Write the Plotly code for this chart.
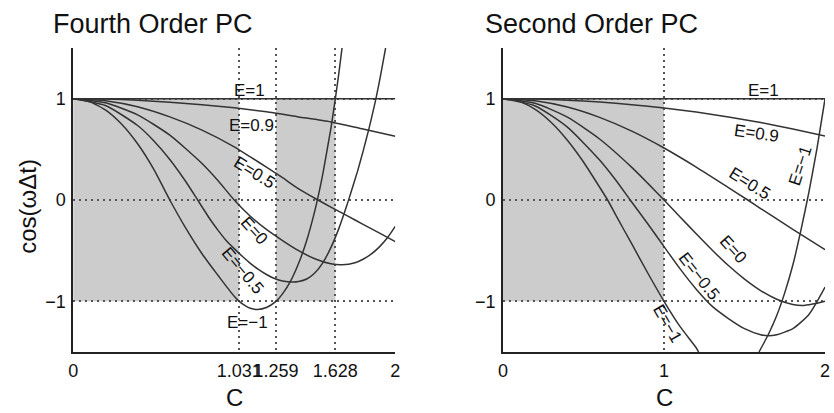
import plotly.graph_objects as go

# ---------------- data ----------------
# Fourth Order PC (left panel)
fo_E1_c = [0, 2]
fo_E1_y = [1, 1]
fo_E09_c = [0, 0.2, 0.4, 0.6, 0.8, 1.0, 1.2, 1.4, 1.6, 1.8, 2.0]
fo_E09_y = [1, 0.997, 0.985, 0.965, 0.94, 0.91, 0.87, 0.82, 0.77, 0.70, 0.63]
fo_E05_c = [0, 0.2, 0.4, 0.6, 0.8, 1.0, 1.1, 1.2, 1.3, 1.4, 1.52, 1.6, 1.7, 1.8, 1.9, 2.0]
fo_E05_y = [1, 0.98, 0.92, 0.82, 0.69, 0.525, 0.425, 0.325, 0.22, 0.11, 0.0, -0.07, -0.155, -0.24, -0.325, -0.41]
fo_E0_c = [0, 0.2, 0.4, 0.6, 0.8, 0.9, 1.0, 1.1, 1.2, 1.3, 1.4, 1.5, 1.6, 1.67, 1.75, 1.8, 1.85, 1.9, 1.95, 2.0]
fo_E0_y = [1, 0.96, 0.84, 0.64, 0.36, 0.19, 0.0, -0.16, -0.29, -0.40, -0.50, -0.58, -0.63, -0.64, -0.62, -0.585, -0.535, -0.465, -0.375, -0.26]
fo_Em05_c = [0, 0.2, 0.4, 0.5, 0.6, 0.7, 0.773, 0.85, 0.9, 0.95, 1.0, 1.05, 1.1, 1.15, 1.2, 1.25, 1.3, 1.366,
             1.4, 1.45, 1.5, 1.55, 1.6, 1.65, 1.7, 1.72, 1.765, 1.8, 1.836, 1.86, 1.88, 1.91, 1.94]
fo_Em05_y = [1, 0.933, 0.735, 0.585, 0.40, 0.18, 0.0, -0.19, -0.30, -0.40, -0.48, -0.555, -0.625, -0.685, -0.735,
             -0.775, -0.80, -0.81, -0.805, -0.78, -0.72, -0.62, -0.47, -0.28, -0.05, 0.05, 0.28, 0.48, 0.70, 0.86,
             1.0, 1.24, 1.5]
fo_Em1_c = [0, 0.1, 0.2, 0.3, 0.4, 0.5, 0.6, 0.7, 0.8, 0.9, 0.95, 1.0, 1.031, 1.07, 1.1, 1.145, 1.2, 1.259,
            1.3, 1.35, 1.4, 1.45, 1.5, 1.53, 1.55, 1.6, 1.628, 1.65, 1.675]
fo_Em1_y = [1, 0.972, 0.889, 0.75, 0.555, 0.305, 0.0, -0.28, -0.53, -0.745, -0.85, -0.95, -1.0, -1.045, -1.068,
            -1.08, -1.061, -1.0, -0.926, -0.80, -0.625, -0.40, -0.11, 0.10, 0.256, 0.705, 1.0, 1.255, 1.57]

# Second Order PC (right panel)
so_E1_c = [0, 2]
so_E1_y = [1, 1]
so_E09_c = [0, 0.2, 0.4, 0.6, 0.8, 1.0, 1.2, 1.4, 1.6, 1.8, 2.0]
so_E09_y = [1, 0.996, 0.985, 0.967, 0.941, 0.908, 0.868, 0.82, 0.764, 0.70, 0.632]
so_E05_c = [0, 0.2, 0.4, 0.6, 0.8, 1.0, 1.2, 1.4, 1.52, 1.6, 1.8, 2.0]
so_E05_y = [1, 0.979, 0.917, 0.815, 0.679, 0.513, 0.325, 0.123, 0.0, -0.084, -0.29, -0.49]
so_E0_c = [0, 0.2, 0.4, 0.6, 0.8, 0.9, 1.0, 1.1, 1.2, 1.3, 1.4, 1.5, 1.6, 1.7, 1.8, 1.87, 1.95, 2.0]
so_E0_y = [1, 0.954, 0.817, 0.602, 0.322, 0.164, 0.0, -0.167, -0.334, -0.496, -0.647, -0.781, -0.894, -0.979,
           -1.031, -1.04, -1.02, -1.0]
so_Em05_c = [0, 0.2, 0.4, 0.6, 0.7, 0.79, 0.9, 1.0, 1.1, 1.2, 1.3, 1.4, 1.5, 1.6, 1.65, 1.7, 1.8, 1.9, 2.0]
so_Em05_y = [1, 0.928, 0.719, 0.394, 0.197, 0.0, -0.237, -0.46, -0.68, -0.88, -1.05, -1.17, -1.27, -1.33, -1.34,
             -1.33, -1.27, -1.13, -0.86]
so_Em1_c = [0, 0.1, 0.2, 0.3, 0.4, 0.5, 0.6, 0.65, 0.7, 0.8, 0.9, 1.0, 1.1, 1.2, 1.215, None,
            1.59, 1.65, 1.7, 1.75, 1.8, 1.85, 1.9, 1.95, 2.0]
so_Em1_y = [1, 0.973, 0.894, 0.765, 0.59, 0.375, 0.127, 0.0, -0.147, -0.434, -0.723, -1.0, -1.25, -1.458, -1.5, None,
            -1.5, -1.32, -1.14, -0.914, -0.642, -0.30, 0.08, 0.51, 1.0]

# ticks
fo_xticks = [0, 1.031, 1.259, 1.628, 2]
fo_xtext = ["0", "1.031", "1.259", "1.628", "2"]
so_xticks = [0, 1, 2]
so_xtext = ["0", "1", "2"]
yticks = [-1, 0, 1, 1.5]
ytext = ["\u22121", "0", "1", ""]

# stable (shaded) C-intervals
fo_stable = [(0, 1.031), (1.259, 1.628)]
so_stable = [(0, 1)]

# labels: (text, C, y, angle)
fo_labels = [("E=1", 1.092, 1.08, 0), ("E=0.9", 1.11, 0.74, 0), ("E=0.5", 1.123, 0.27, 32),
             ("E=0", 1.123, -0.30, 48), ("E=\u22120.5", 1.05, -0.70, 50), ("E=\u22121", 1.08, -1.21, 0)]
so_labels = [("E=1", 1.62, 1.08, 0), ("E=0.9", 1.577, 0.66, 8), ("E=0.5", 1.53, 0.16, 32),
             ("E=\u22121", 1.847, 0.34, -72), ("E=0", 1.43, -0.485, 48), ("E=\u22120.5", 1.22, -0.75, 52),
             ("E=\u22121", 1.02, -1.22, 60)]

FONT = "Liberation Sans, Arial, sans-serif"
W, H = 834, 413
LINE = dict(color="#333333", width=1.5, shape="spline", smoothing=0.6)

fig = go.Figure()
left = [(fo_E1_c, fo_E1_y), (fo_E09_c, fo_E09_y), (fo_E05_c, fo_E05_y), (fo_E0_c, fo_E0_y),
        (fo_Em05_c, fo_Em05_y), (fo_Em1_c, fo_Em1_y)]
right = [(so_E1_c, so_E1_y), (so_E09_c, so_E09_y), (so_E05_c, so_E05_y), (so_E0_c, so_E0_y),
         (so_Em05_c, so_Em05_y), (so_Em1_c, so_Em1_y)]
for c, y in left:
    fig.add_trace(go.Scatter(x=c, y=y, mode="lines", line=LINE, xaxis="x", yaxis="y",
                             showlegend=False, hoverinfo="skip", connectgaps=False))
for c, y in right:
    fig.add_trace(go.Scatter(x=c, y=y, mode="lines", line=LINE, xaxis="x2", yaxis="y2",
                             showlegend=False, hoverinfo="skip", connectgaps=False))

shapes = []
for a, b in fo_stable:
    shapes.append(dict(type="rect", xref="x", yref="y", x0=a, x1=b, y0=-1, y1=1,
                       fillcolor="#cccccc", line=dict(width=0), layer="below"))
for a, b in so_stable:
    shapes.append(dict(type="rect", xref="x2", yref="y2", x0=a, x1=b, y0=-1, y1=1,
                       fillcolor="#cccccc", line=dict(width=0), layer="below"))

annotations = []
for txt, cx, cy, ang in fo_labels:
    annotations.append(dict(text=txt, x=cx, y=cy, xref="x", yref="y", showarrow=False, textangle=ang,
                            font=dict(size=17, color="#111", family=FONT)))
for txt, cx, cy, ang in so_labels:
    annotations.append(dict(text=txt, x=cx, y=cy, xref="x2", yref="y2", showarrow=False, textangle=ang,
                            font=dict(size=17, color="#111", family=FONT)))

def px(xp):
    return xp / W

def py(yp):
    return (H - yp) / H

annotations += [
    dict(text="Fourth Order PC", x=px(47), y=py(24), xref="paper", yref="paper", xanchor="left",
         yanchor="middle", showarrow=False, font=dict(size=27, color="#111", family=FONT)),
    dict(text="Second Order PC", x=px(484), y=py(24), xref="paper", yref="paper", xanchor="left",
         yanchor="middle", showarrow=False, font=dict(size=27, color="#111", family=FONT)),
    dict(text="cos(\u03c9\u0394t)", x=px(22), y=py(206), xref="paper", yref="paper", textangle=-90,
         xanchor="center", yanchor="middle",
         showarrow=False, font=dict(size=24, color="#111", family=FONT)),
    dict(text="C", x=px(232), y=0, xref="paper", yref="paper", showarrow=False,
         xanchor="center", yanchor="bottom", font=dict(size=24, color="#111", family=FONT)),
    dict(text="C", x=px(667), y=0, xref="paper", yref="paper", showarrow=False,
         xanchor="center", yanchor="bottom", font=dict(size=24, color="#111", family=FONT)),
]

GRID = dict(showgrid=True, gridcolor="#555555", gridwidth=1.5, griddash="2px,4px", zeroline=False,
            showline=True, linecolor="#222222", linewidth=1.5, ticks="", ticklabelstandoff=2,
            tickfont=dict(size=18, color="#111", family=FONT))

ydom = [py(352), py(48)]
fig.update_layout(
    width=W, height=H, margin=dict(l=0, r=0, t=0, b=0),
    paper_bgcolor="white", plot_bgcolor="white",
    xaxis=dict(domain=[px(69), px(395)], range=[0, 2], tickvals=fo_xticks, ticktext=fo_xtext,
               tickangle=0, anchor="y", **GRID),
    yaxis=dict(domain=ydom, range=[-1.5, 1.5], tickvals=yticks, ticktext=ytext, anchor="x", **GRID),
    xaxis2=dict(domain=[px(504), px(830)], range=[0, 2], tickvals=so_xticks, ticktext=so_xtext,
                tickangle=0, anchor="y2", **GRID),
    yaxis2=dict(domain=ydom, range=[-1.5, 1.5], tickvals=yticks, ticktext=ytext, anchor="x2", **GRID),
    shapes=shapes, annotations=annotations,
)

fig.write_html("out.html")
